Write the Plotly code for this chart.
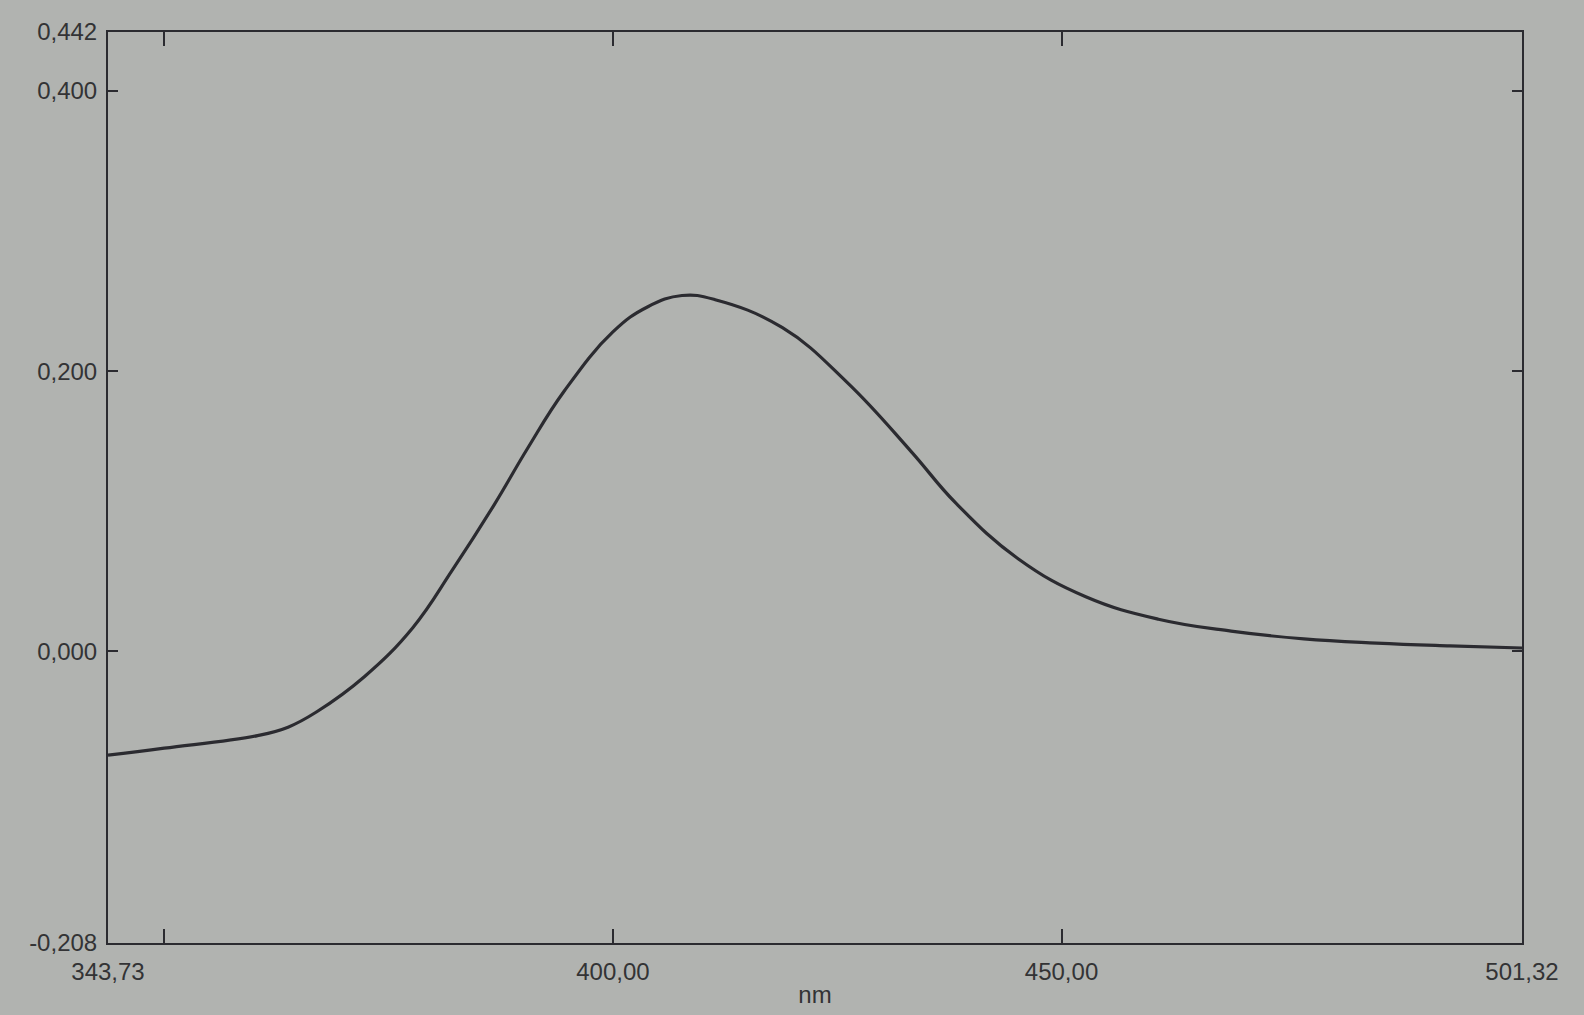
import plotly.graph_objects as go

# Wavelength (nm) and absorbance
wavelength = [343.73, 350.0, 360.4, 363.8, 367.0, 372.3, 377.7, 382.1, 386.8, 390.5,
              394.6, 400.0, 403.9, 407.7, 411.4, 418.9, 426.1, 433.2, 438.2,
              445.2, 452.7, 460.8, 468.9, 477.0, 485.1, 493.3, 501.32]
absorbance = [-0.074, -0.069, -0.060, -0.054, -0.043, -0.018, 0.017, 0.058, 0.105, 0.145,
              0.186, 0.228, 0.246, 0.254, 0.251, 0.231, 0.192, 0.143, 0.106,
              0.066, 0.039, 0.023, 0.0145, 0.009, 0.006, 0.004, 0.0025]

x_tickvals = [343.73, 350, 400, 450, 501.32]
x_ticktext = ["343,73", "", "400,00", "450,00", "501,32"]
y_tickvals = [-0.208, 0.0, 0.2, 0.4, 0.442]
y_ticktext = ["-0,208", "0,000", "0,200", "0,400", "0,442"]

bg = "#b1b3b0"
ink = "#2b2b30"
font = dict(family="Liberation Sans, Arial, sans-serif", size=24, color="#333335")

fig = go.Figure()
fig.add_trace(go.Scatter(
    x=wavelength, y=absorbance, mode="lines",
    line=dict(color=ink, width=3.2, shape="spline", smoothing=1.2),
    showlegend=False, hoverinfo="x+y",
))

fig.update_layout(
    width=1584, height=1015,
    paper_bgcolor=bg, plot_bgcolor=bg,
    margin=dict(l=108, r=62, t=32, b=72),
    font=font,
    xaxis=dict(
        range=[343.73, 501.32], tickmode="array",
        tickvals=x_tickvals, ticktext=x_ticktext,
        ticks="inside", ticklen=14, tickwidth=2, tickcolor=ink,
        showline=True, linecolor=ink, linewidth=2, mirror="ticks",
        showgrid=False, zeroline=False,
        title=dict(text="nm", standoff=2, font=font),
        ticklabelstandoff=6,
    ),
    yaxis=dict(
        range=[-0.208, 0.442], tickmode="array",
        tickvals=y_tickvals, ticktext=y_ticktext,
        ticks="inside", ticklen=10, tickwidth=2, tickcolor=ink,
        showline=True, linecolor=ink, linewidth=2, mirror="ticks",
        showgrid=False, zeroline=False,
        ticklabelstandoff=4,
    ),
)

fig.write_html(
    "out.html",
    config={"displayModeBar": False},
    post_script="document.body.style.margin='0';document.body.style.background='%s';" % bg,
)
